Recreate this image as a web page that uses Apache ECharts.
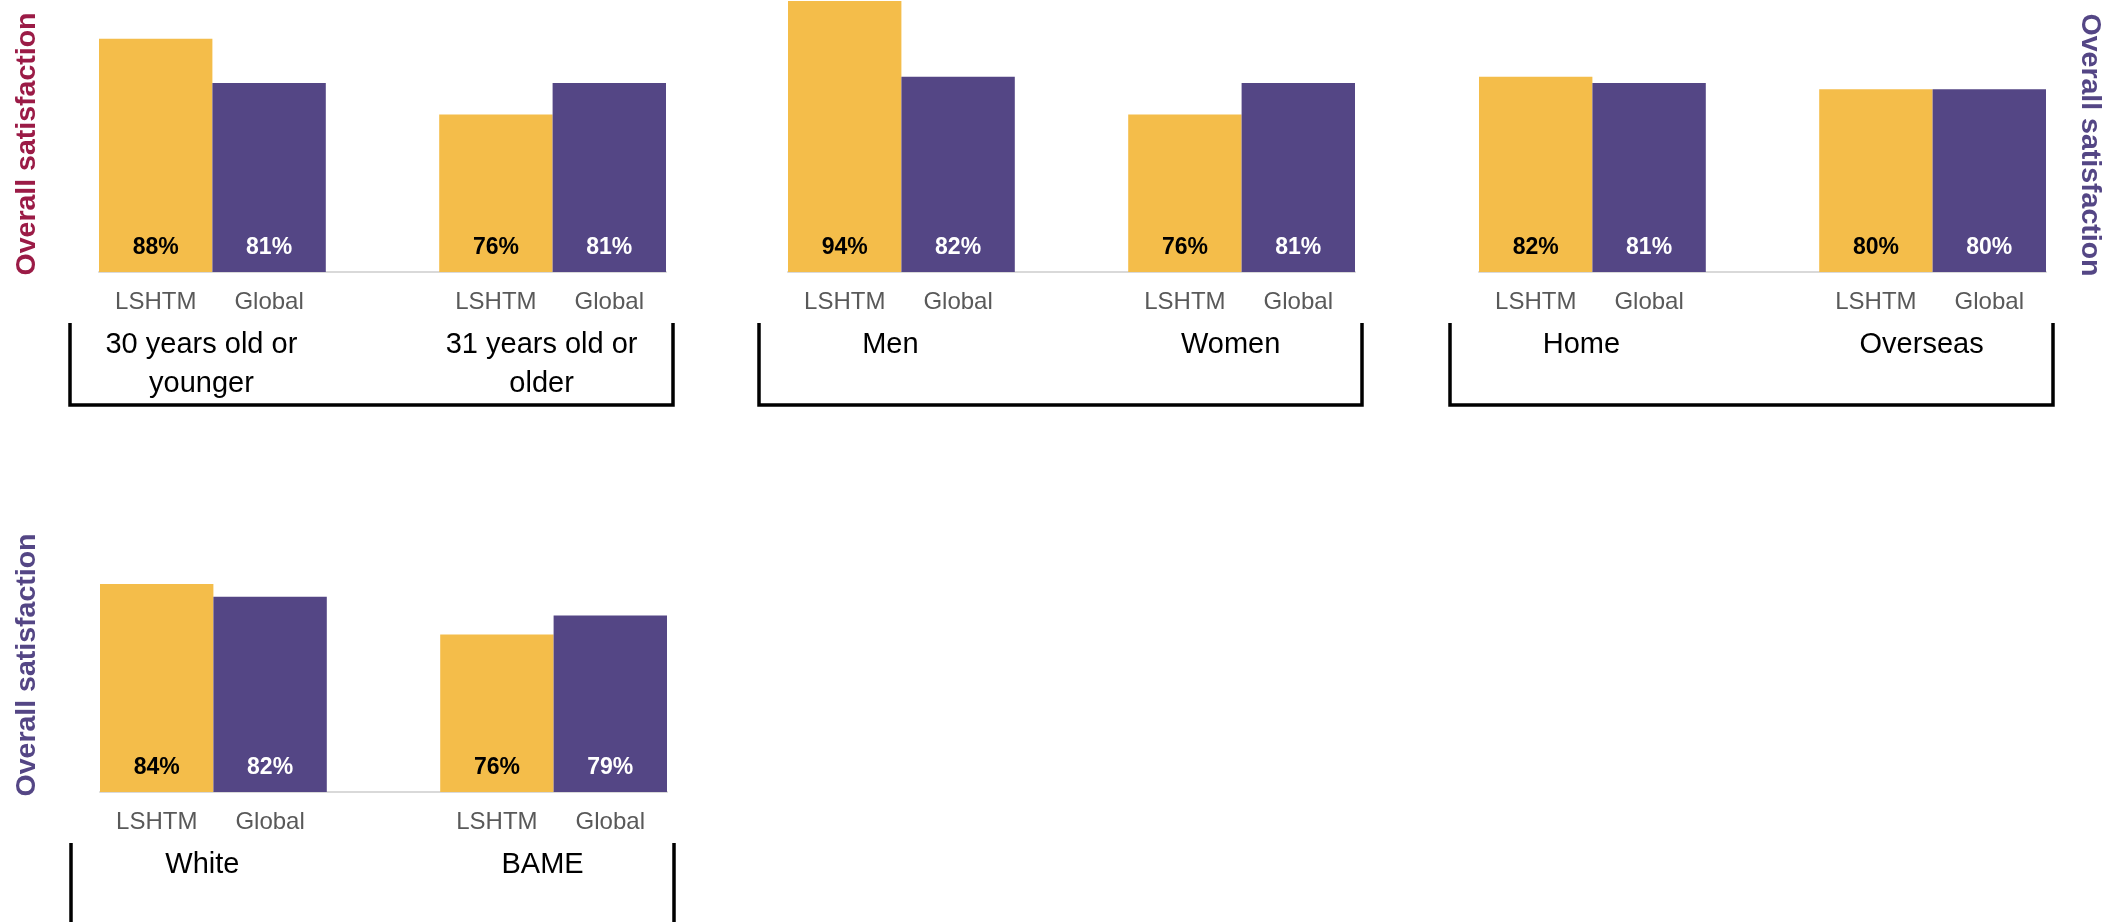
<!DOCTYPE html>
<html>
<head>
<meta charset="utf-8">
<script src="https://cdn.jsdelivr.net/npm/echarts@6/dist/echarts.min.js"></script>
<style>
  html, body { margin: 0; padding: 0; background: #fff; }
  #chart { width: 2116px; height: 922px; }
</style>
</head>
<body>
<div id="chart"></div>
<script>
// bar slots per panel: LSHTM, Global, gap, LSHTM, Global
const categories = ["LSHTM", "Global", "", "LSHTM", "Global"];
const groupNames = [
  ["30 years old or\nyounger", "31 years old or\nolder"],
  ["Men", "Women"],
  ["Home", "Overseas"],
  ["White", "BAME"],
];
const lshtmValues = [[88, 76], [94, 76], [82, 80], [84, 76]];
const globalValues = [[81, 81], [82, 81], [81, 80], [82, 79]];
const yTitle = "Overall satisfaction";

const YELLOW = "#F4BD4A";
const PURPLE = "#544685";
const CRIMSON = "#9B1B46";
const FONT = "Liberation Sans, Arial, sans-serif";

// panel layout (px)
const panels = [
  { left: 99, top: 1 },
  { left: 788, top: 1 },
  { left: 1479, top: 1 },
  { left: 100, top: 521 },
];
const gridW = 567;
const gridH = 271;
const slot = gridW / 5;

const chart = echarts.init(document.getElementById("chart"));

const grid = [];
const xAxis = [];
const yAxis = [];
const series = [];
const graphic = [];

panels.forEach((p, i) => {
  grid.push({ left: p.left, top: p.top, width: gridW, height: gridH });
  xAxis.push({
    type: "category",
    gridIndex: i,
    data: categories,
    axisLine: { lineStyle: { color: "#D9D9D9", width: 2 } },
    axisTick: { show: false },
    axisLabel: { color: "#595959", fontSize: 24, fontFamily: FONT, margin: 18 },
  });
  yAxis.push({
    type: "value",
    gridIndex: i,
    min: 51,
    max: 94,
    show: false,
  });

  const l = lshtmValues[i];
  const g = globalValues[i];
  const labelBase = {
    show: true,
    position: "insideBottom",
    distance: 13,
    fontSize: 23,
    fontWeight: "bold",
    fontFamily: FONT,
    formatter: "{c}%",
  };
  series.push({
    name: "LSHTM",
    type: "bar",
    xAxisIndex: i,
    yAxisIndex: i,
    barWidth: "100%",
    barGap: "-100%",
    data: [l[0], "-", "-", l[1], "-"],
    itemStyle: { color: YELLOW },
    label: { ...labelBase, color: "#000" },
    silent: true,
  });
  series.push({
    name: "Global",
    type: "bar",
    xAxisIndex: i,
    yAxisIndex: i,
    barWidth: "100%",
    barGap: "-100%",
    data: ["-", g[0], "-", "-", g[1]],
    itemStyle: { color: PURPLE },
    label: { ...labelBase, color: "#fff" },
    silent: true,
  });

  // bracket under each panel
  const base = p.top + gridH;
  const L = p.left - 29;
  const R = p.left + gridW + 7;
  graphic.push({
    type: "polyline",
    shape: { points: [[L, base + 51], [L, base + 133], [R, base + 133], [R, base + 51]] },
    style: { stroke: "#000", lineWidth: 3.5, fill: null },
    silent: true,
  });
  // group names
  [1, 4].forEach((s, k) => {
    graphic.push({
      type: "text",
      x: p.left + slot * s - 11,
      y: base + 53,
      style: {
        text: groupNames[i][k],
        font: "29px " + FONT,
        fill: "#000",
        align: "center",
        verticalAlign: "top",
        lineHeight: 39,
      },
      silent: true,
    });
  });
});

// axis titles
const titles = [
  { x: 27, y: 144, rot: Math.PI / 2, color: CRIMSON },
  { x: 2090, y: 145, rot: -Math.PI / 2, color: PURPLE },
  { x: 27, y: 665, rot: Math.PI / 2, color: PURPLE },
];
titles.forEach((t) => {
  graphic.push({
    type: "text",
    x: t.x,
    y: t.y,
    rotation: t.rot,
    style: {
      text: yTitle,
      font: "bold 28.5px " + FONT,
      fill: t.color,
      align: "center",
      verticalAlign: "middle",
    },
    silent: true,
  });
});

chart.setOption({
  animation: false,
  grid,
  xAxis,
  yAxis,
  series,
  graphic,
});

window.addEventListener("resize", () => chart.resize());
</script>
</body>
</html>
